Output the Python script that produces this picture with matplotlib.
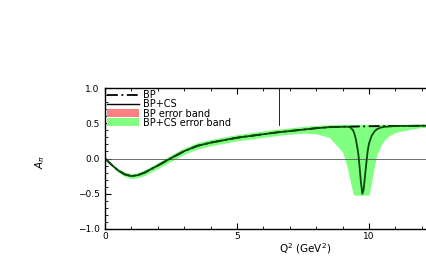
import matplotlib
matplotlib.use("Agg")
import matplotlib.pyplot as plt
from matplotlib.lines import Line2D
from matplotlib.patches import Patch
from matplotlib.ticker import MultipleLocator

plt.rcParams['font.family'] = ['DejaVu Sans']

# Q^2 grid (GeV^2)
q2 = [0.0, 0.25, 0.5, 0.75, 1.0, 1.25, 1.5, 1.75, 2.0, 2.5,
      3.0, 3.5, 4.0, 4.5, 5.0, 5.5, 6.0, 6.5, 7.0, 7.5,
      8.0, 8.5, 9.0, 9.1, 9.2, 9.3, 9.4, 9.45, 9.5, 9.55,
      9.6, 9.65, 9.7, 9.75, 9.8, 9.85, 9.9, 9.95, 10.0, 10.1,
      10.2, 10.3, 10.45, 10.6, 10.8, 11.0, 11.5, 12.0, 12.2]

# BP curve
bp = [0.0, -0.09, -0.17, -0.225, -0.25, -0.235, -0.2, -0.15, -0.1, 0.005,
      0.105, 0.18, 0.225, 0.26, 0.295, 0.32, 0.345, 0.37, 0.39, 0.41,
      0.43, 0.445, 0.45, 0.451, 0.452, 0.452, 0.453, 0.453, 0.454, 0.454,
      0.455, 0.455, 0.455, 0.456, 0.456, 0.456, 0.457, 0.457, 0.458, 0.458,
      0.459, 0.459, 0.46, 0.46, 0.461, 0.462, 0.463, 0.465, 0.465]

# BP+CS curve
bpcs = [0.0, -0.09, -0.17, -0.225, -0.25, -0.235, -0.2, -0.15, -0.1, 0.005,
        0.105, 0.18, 0.225, 0.26, 0.295, 0.32, 0.345, 0.37, 0.39, 0.41,
        0.43, 0.445, 0.45, 0.451, 0.45, 0.44, 0.40, 0.35, 0.28, 0.18,
        0.06, -0.14, -0.35, -0.50, -0.44, -0.25, -0.07, 0.10, 0.21, 0.32,
        0.38, 0.415, 0.44, 0.45, 0.455, 0.462, 0.463, 0.465, 0.465]

# BP error band
bp_lo = [0.0, -0.1, -0.185, -0.245, -0.275, -0.26, -0.23, -0.18, -0.13, -0.03,
         0.07, 0.145, 0.19, 0.225, 0.26, 0.285, 0.31, 0.335, 0.355, 0.375,
         0.405, 0.425, 0.43, 0.431, 0.432, 0.432, 0.433, 0.433, 0.434, 0.434,
         0.435, 0.435, 0.435, 0.436, 0.436, 0.436, 0.437, 0.437, 0.438, 0.438,
         0.439, 0.439, 0.44, 0.44, 0.441, 0.442, 0.443, 0.445, 0.445]
bp_hi = [0.0, -0.08, -0.155, -0.205, -0.225, -0.21, -0.17, -0.12, -0.07, 0.04,
         0.14, 0.215, 0.26, 0.295, 0.33, 0.355, 0.38, 0.405, 0.425, 0.445,
         0.455, 0.465, 0.466, 0.466, 0.467, 0.467, 0.468, 0.468, 0.469, 0.469,
         0.47, 0.47, 0.47, 0.471, 0.471, 0.471, 0.472, 0.472, 0.473, 0.473,
         0.474, 0.474, 0.475, 0.475, 0.476, 0.477, 0.478, 0.48, 0.48]

# BP+CS error band
cs_lo = [-0.005, -0.105, -0.195, -0.255, -0.285, -0.27, -0.24, -0.19, -0.14, -0.04,
         0.06, 0.135, 0.18, 0.215, 0.25, 0.275, 0.30, 0.325, 0.345, 0.36,
         0.35, 0.30, 0.09, -0.02, -0.16, -0.34, -0.50, -0.52, -0.52, -0.52,
         -0.52, -0.52, -0.52, -0.52, -0.52, -0.52, -0.52, -0.52, -0.52, -0.34,
         -0.12, 0.05, 0.18, 0.27, 0.33, 0.37, 0.41, 0.44, 0.445]
cs_hi = [0.005, -0.075, -0.145, -0.195, -0.215, -0.2, -0.16, -0.11, -0.06, 0.05,
         0.15, 0.225, 0.27, 0.305, 0.34, 0.365, 0.39, 0.415, 0.435, 0.455,
         0.47, 0.48, 0.485, 0.485, 0.485, 0.485, 0.485, 0.485, 0.485, 0.485,
         0.485, 0.485, 0.485, 0.485, 0.485, 0.485, 0.485, 0.485, 0.485, 0.485,
         0.485, 0.485, 0.485, 0.485, 0.485, 0.485, 0.485, 0.487, 0.487]

legend_labels = ["BP", "BP+CS", "BP error band", "BP+CS error band"]

red = '#ff8080'
green = '#80ff80'

fig = plt.figure(figsize=(4.27, 2.62), dpi=100)
ax = fig.add_axes([0.246, 0.126, 0.754, 0.538])

ax.fill_between(q2, bp_lo, bp_hi, color=red, lw=0)
ax.fill_between(q2, cs_lo, cs_hi, color=green, lw=0)
ax.axhline(0, color='#555555', lw=0.6)
ax.plot(q2, bp, color='black', lw=1.3, ls=(0, (6, 2, 1, 2)))
ax.plot(q2, bpcs, color='#0b4a0b', lw=1.3)

ax.set_xlim(0, 12.2)
ax.set_ylim(-1, 1)
ax.xaxis.set_major_locator(MultipleLocator(5))
ax.xaxis.set_minor_locator(MultipleLocator(1))
ax.yaxis.set_minor_locator(MultipleLocator(0.1))
ax.set_yticks([-1, -0.5, 0, 0.5, 1])
ax.set_yticklabels(['\u22121.0', '\u22120.5', '0.0', '0.5', '1.0'])
ax.tick_params(which='both', direction='in', top=True, right=False, labelsize=6.5)
ax.tick_params(which='major', length=4.3, width=0.8)
ax.tick_params(which='minor', length=2.2, width=0.6)
ax.tick_params(axis='y', pad=4)
ax.tick_params(axis='x', pad=2)
ax.spines['right'].set_visible(False)
for s in ['left', 'bottom', 'top']:
    ax.spines[s].set_linewidth(1.0)

ax.set_xlabel('Q$^2$ (GeV$^2$)', fontsize=7.5)
ax.xaxis.set_label_coords(0.62, -0.085)
ax.set_ylabel('$A_{\\pi}$', fontsize=7.5)
ax.yaxis.set_label_coords(-0.18, 0.475)

handles = [Line2D([], [], color='black', lw=1.3, ls=(0, (6, 2, 1, 2))),
           Line2D([], [], color='black', lw=1.0),
           Patch(facecolor=red, edgecolor='none'),
           Patch(facecolor=green, edgecolor='none')]
ax.legend(handles, legend_labels, loc='upper left', frameon=False, fontsize=7,
          handlelength=3.2, handleheight=0.8, handletextpad=0.5, labelspacing=-0.1,
          borderaxespad=0.1, borderpad=0.15)
ax.plot([0.54, 0.54], [0.738, 1.0], transform=ax.transAxes, color='black', lw=0.6)

fig.savefig('out.png', dpi=100)
